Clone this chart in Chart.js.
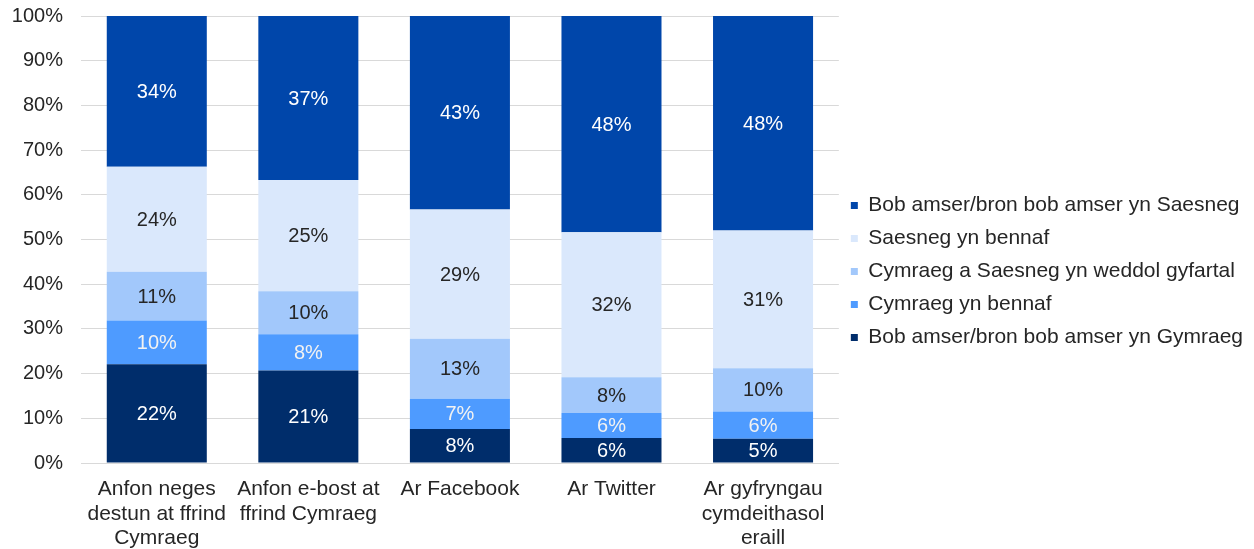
<!DOCTYPE html>
<html>
<head>
<meta charset="utf-8">
<script src="https://cdn.jsdelivr.net/npm/chart.js@4/dist/chart.umd.min.js"></script>
<style>
  html, body { margin: 0; padding: 0; background: #fff; }
  #wrap { width: 1254px; height: 549px; position: relative; }
</style>
</head>
<body>
<div id="wrap"><canvas id="c"></canvas></div>
<script>
const categories = [
  ["Anfon neges", "destun at ffrind", "Cymraeg"],
  ["Anfon e-bost at", "ffrind Cymraeg"],
  ["Ar Facebook"],
  ["Ar Twitter"],
  ["Ar gyfryngau", "cymdeithasol", "eraill"]
];
const seriesNames = [
  "Bob amser/bron bob amser yn Gymraeg",
  "Cymraeg yn bennaf",
  "Cymraeg a Saesneg yn weddol gyfartal",
  "Saesneg yn bennaf",
  "Bob amser/bron bob amser yn Saesneg"
];
const alwaysWelsh    = [22.1, 20.7, 7.6, 5.6, 5.4];
const mainlyWelsh    = [9.8, 8.1, 6.8, 5.6, 6.1];
const equalBoth      = [10.9, 9.6, 13.4, 8.0, 9.7];
const mainlyEnglish  = [23.5, 24.9, 28.9, 32.4, 30.8];
const alwaysEnglish  = [33.7, 36.7, 43.3, 48.4, 48.0];
const yTicks = [0, 10, 20, 30, 40, 50, 60, 70, 80, 90, 100];

const colors = ["#002D6B", "#4E9BFF", "#A2C8FB", "#DAE8FC", "#0046AA"];
const labelColors = ["#FFFFFF", "#F2F2F2", "#262626", "#262626", "#FFFFFF"];
const values = [alwaysWelsh, mainlyWelsh, equalBoth, mainlyEnglish, alwaysEnglish];

const FONT = "'Liberation Sans', Arial, sans-serif";

const labelPlugin = {
  id: 'barLabels',
  afterDatasetsDraw(chart) {
    const ctx = chart.ctx;
    ctx.save();
    ctx.font = "20px " + FONT;
    ctx.textAlign = 'center';
    ctx.textBaseline = 'middle';
    chart.data.datasets.forEach((ds, i) => {
      const meta = chart.getDatasetMeta(i);
      meta.data.forEach((bar, j) => {
        const v = ds.data[j];
        const p = bar.getProps(['x', 'y', 'base'], true);
        ctx.fillStyle = labelColors[i];
        ctx.fillText(Math.round(v) + '%', p.x, (p.y + p.base) / 2 + 1);
      });
    });
    ctx.restore();
  }
};

new Chart(document.getElementById('c'), {
  type: 'bar',
  data: {
    labels: categories,
    datasets: seriesNames.map((n, i) => ({
      label: n,
      data: values[i],
      backgroundColor: colors[i],
      borderWidth: 0,
      barPercentage: 0.66,
      categoryPercentage: 1.0
    }))
  },
  options: {
    responsive: true,
    maintainAspectRatio: false,
    animation: false,
    devicePixelRatio: 1,
    layout: { padding: { left: 11, top: 16, right: 1, bottom: 0 } },
    plugins: {
      legend: {
        position: 'right',
        align: 'start',
        reverse: true,
        maxWidth: 600,
        title: {
          display: true,
          text: ' ',
          font: { family: FONT, size: 10, lineHeight: 1 },
          padding: { top: 0, bottom: 157 }
        },
        labels: {
          boxWidth: 7,
          boxHeight: 7,
          padding: 12,
          color: '#262626',
          font: { family: FONT, size: 21, lineHeight: 1.05 }
        }
      },
      tooltip: { enabled: false }
    },
    scales: {
      x: {
        stacked: true,
        grid: { display: false, drawTicks: false },
        border: { display: true, color: '#D9D9D9', width: 1 },
        afterFit(axis) {
          axis.height = 86;
          axis.paddingLeft = 0; axis.paddingRight = 0;
          axis.paddingTop = 0; axis.paddingBottom = 0;
        },
        ticks: {
          color: '#262626',
          padding: 14,
          maxRotation: 0,
          autoSkip: false,
          font: { family: FONT, size: 21, lineHeight: 1.17 }
        }
      },
      y: {
        stacked: true,
        min: 0,
        max: 100,
        afterBuildTicks(axis) { axis.ticks = yTicks.map(v => ({ value: v })); },
        afterFit(axis) {
          axis.width = 70;
          axis.paddingTop = 0; axis.paddingBottom = 0;
          axis.paddingLeft = 0; axis.paddingRight = 0;
        },
        grid: { color: '#D9D9D9', drawTicks: false },
        border: { display: false },
        ticks: {
          color: '#262626',
          padding: 18,
          font: { family: FONT, size: 20 },
          callback: v => v + '%'
        }
      }
    }
  },
  plugins: [labelPlugin]
});
</script>
</body>
</html>
